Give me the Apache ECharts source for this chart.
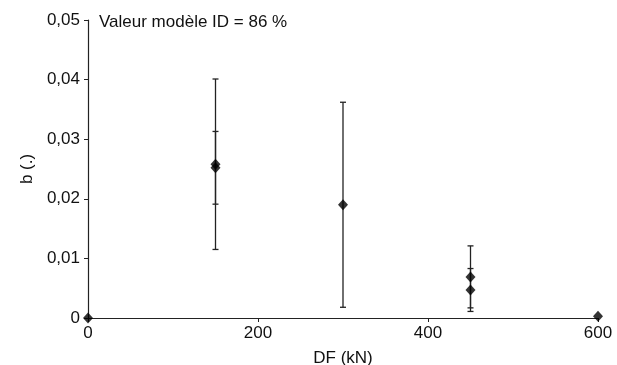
<!DOCTYPE html>
<html><head><meta charset="utf-8">
<script src="https://cdn.jsdelivr.net/npm/echarts@6/dist/echarts.min.js"></script>
<style>html,body{margin:0;padding:0;background:#fff}#c{width:617px;height:365px}</style>
</head><body><div id="c"></div>
<script>
var titleText = 'Valeur modèle ID = 86 %';
var xName = 'DF (kN)';
var yName = 'b (.)';
var dfValues = [0, 150, 150, 300, 450, 450, 600];
var bValues = [0, 0.0258, 0.0252, 0.0190, 0.0069, 0.0047, 0.0003];
var errValues = [0, 0.0143, 0.0061, 0.0172, 0.0052, 0.0036, 0];
var xTicks = [0, 200, 400, 600];
var yTicks = [0, 0.01, 0.02, 0.03, 0.04, 0.05];

var points = dfValues.map(function (x, i) { return [x, bValues[i]]; });
var bars = dfValues.map(function (x, i) { return [x, bValues[i] - errValues[i], bValues[i] + errValues[i]]; })
  .filter(function (d, i) { return errValues[i] > 0; });

var font = 'Liberation Sans, Arial, sans-serif';
var chart = echarts.init(document.getElementById('c'));
chart.setOption({
  animation: false,
  backgroundColor: '#fff',
  title: { text: titleText, left: 94, top: 9, textStyle: { fontFamily: font, fontSize: 17, fontWeight: 'normal', color: '#111' } },
  grid: { left: 88, right: 19, top: 20, bottom: 47, containLabel: false, outerBoundsMode: 'none' },
  xAxis: {
    type: 'value', min: 0, max: 600, interval: 200,
    name: xName, nameLocation: 'middle', nameGap: 32,
    nameTextStyle: { fontFamily: font, fontSize: 17, color: '#111' },
    axisLine: { lineStyle: { color: '#222', width: 1.2 } },
    axisTick: { show: true, length: 4, lineStyle: { color: '#222' } },
    axisLabel: { fontFamily: font, fontSize: 17, color: '#111', margin: 7, formatter: function (v) { return xTicks.indexOf(v) >= 0 ? String(v) : ''; } },
    splitLine: { show: false }
  },
  yAxis: {
    type: 'value', min: 0, max: 0.05, interval: 0.01,
    name: yName, nameLocation: 'middle', nameGap: 52, nameRotate: 90,
    nameTextStyle: { fontFamily: font, fontSize: 17, color: '#111' },
    axisLine: { show: true, lineStyle: { color: '#222', width: 1.2 } },
    axisTick: { show: true, length: 4, lineStyle: { color: '#222' } },
    axisLabel: { fontFamily: font, fontSize: 17, color: '#111', margin: 8,
      formatter: function (v) { var r = Math.round(v * 100) / 100; return r === 0 ? '0' : r.toFixed(2).replace('.', ','); } },
    splitLine: { show: false }
  },
  series: [
    {
      type: 'custom',
      data: bars,
      z: 1,
      renderItem: function (params, api) {
        var x = api.value(0);
        var lo = api.coord([x, api.value(1)]);
        var hi = api.coord([x, api.value(2)]);
        var w = 3;
        var st = { stroke: '#222', lineWidth: 1.3 };
        return { type: 'group', children: [
          { type: 'line', shape: { x1: lo[0], y1: lo[1], x2: hi[0], y2: hi[1] }, style: st },
          { type: 'line', shape: { x1: lo[0] - w, y1: lo[1], x2: lo[0] + w, y2: lo[1] }, style: st },
          { type: 'line', shape: { x1: hi[0] - w, y1: hi[1], x2: hi[0] + w, y2: hi[1] }, style: st }
        ] };
      }
    },
    {
      type: 'scatter',
      data: points,
      symbol: 'diamond',
      symbolSize: [10, 11],
      itemStyle: { color: '#000' },
      z: 3
    }
  ]
});
</script></body></html>
